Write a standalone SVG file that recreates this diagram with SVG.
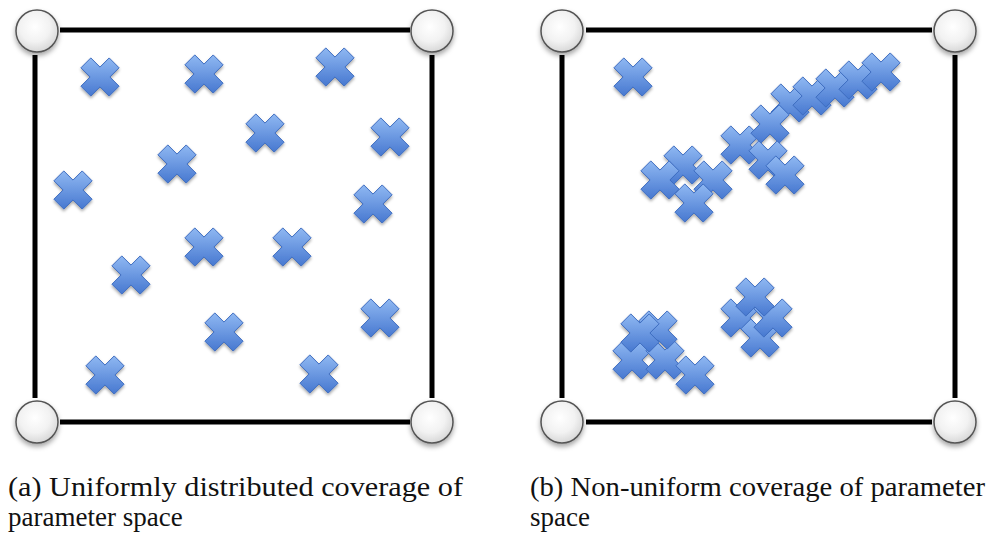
<svg xmlns="http://www.w3.org/2000/svg" xmlns:xlink="http://www.w3.org/1999/xlink" width="987" height="535" viewBox="0 0 987 535">
<style>
.frame{stroke:#000;stroke-width:5;fill:none}
.node{fill:url(#cg);stroke:#555;stroke-width:1.5;filter:url(#sh)}
.cap{font-family:"Liberation Serif","DejaVu Serif",serif;font-size:27px;fill:#111}
.x{filter:url(#sh2)}
</style>
<defs>
<radialGradient id="cg" cx="0.45" cy="0.4" r="0.6">
<stop offset="0" stop-color="#ffffff"/>
<stop offset="0.6" stop-color="#f2f2f2"/>
<stop offset="1" stop-color="#d8d8d8"/>
</radialGradient>
<linearGradient id="xg" x1="0" y1="0" x2="0" y2="1">
<stop offset="0" stop-color="#8fb8f2"/>
<stop offset="1" stop-color="#4778d0"/>
</linearGradient>
<filter id="sh" x="-50%" y="-50%" width="200%" height="200%">
<feDropShadow dx="0" dy="3" stdDeviation="2.5" flood-color="#000" flood-opacity="0.35"/>
</filter>
<filter id="sh2" x="-50%" y="-50%" width="200%" height="200%">
<feDropShadow dx="0" dy="2" stdDeviation="1.5" flood-color="#000" flood-opacity="0.35"/>
</filter>
<path id="x" d="M9.19,-19.09 L19.09,-9.19 L9.9,0 L19.09,9.19 L9.19,19.09 L0,9.9 L-9.19,19.09 L-19.09,9.19 L-9.9,0 L-19.09,-9.19 L-9.19,-19.09 L0,-9.9 Z" fill="url(#xg)" stroke="#3d6cc0" stroke-width="1" stroke-linejoin="round"/>
</defs>

<g id="connectors">
<line class="frame" x1="60" y1="30" x2="410" y2="30"/>
<line class="frame" x1="60" y1="422" x2="410" y2="422"/>
<line class="frame" x1="35" y1="55" x2="35" y2="398"/>
<line class="frame" x1="432" y1="55" x2="432" y2="398"/>
<line class="frame" x1="586" y1="30" x2="932" y2="30"/>
<line class="frame" x1="586" y1="422" x2="932" y2="422"/>
<line class="frame" x1="562" y1="55" x2="562" y2="398"/>
<line class="frame" x1="955" y1="55" x2="955" y2="398"/>
</g>

<g id="node-a-tl"><circle class="node" cx="37" cy="31" r="21"/></g>
<g id="node-a-tr"><circle class="node" cx="432" cy="31" r="21"/></g>
<g id="node-a-bl"><circle class="node" cx="37" cy="422" r="21"/></g>
<g id="node-a-br"><circle class="node" cx="432" cy="422" r="21"/></g>
<g id="node-b-tl"><circle class="node" cx="562" cy="31" r="21"/></g>
<g id="node-b-tr"><circle class="node" cx="955" cy="31" r="21"/></g>
<g id="node-b-bl"><circle class="node" cx="562" cy="422" r="21"/></g>
<g id="node-b-br"><circle class="node" cx="955" cy="422" r="21"/></g>

<g id="samples-a" class="x">
<use href="#x" x="100" y="77"/>
<use href="#x" x="204" y="74"/>
<use href="#x" x="335" y="67"/>
<use href="#x" x="265" y="133"/>
<use href="#x" x="390" y="137"/>
<use href="#x" x="177" y="164"/>
<use href="#x" x="73" y="190"/>
<use href="#x" x="373" y="204"/>
<use href="#x" x="204" y="247"/>
<use href="#x" x="292" y="247"/>
<use href="#x" x="131" y="275"/>
<use href="#x" x="380" y="318"/>
<use href="#x" x="224" y="332"/>
<use href="#x" x="105" y="375"/>
<use href="#x" x="319" y="374"/>
</g>

<g id="samples-b" class="x">
<use href="#x" x="633" y="77"/>
<use href="#x" x="790" y="103"/>
<use href="#x" x="812" y="96"/>
<use href="#x" x="835" y="88"/>
<use href="#x" x="858" y="80"/>
<use href="#x" x="881" y="72"/>
<use href="#x" x="740" y="145"/>
<use href="#x" x="770" y="124"/>
<use href="#x" x="768" y="160"/>
<use href="#x" x="785" y="175"/>
<use href="#x" x="683" y="165"/>
<use href="#x" x="660" y="180"/>
<use href="#x" x="713" y="180"/>
<use href="#x" x="694" y="203"/>
<use href="#x" x="632" y="360"/>
<use href="#x" x="665" y="360"/>
<use href="#x" x="658" y="330"/>
<use href="#x" x="640" y="333"/>
<use href="#x" x="695" y="375"/>
<use href="#x" x="740" y="318"/>
<use href="#x" x="760" y="338"/>
<use href="#x" x="773" y="318"/>
<use href="#x" x="755" y="297"/>
</g>

<g id="captions">
<text class="cap" x="8" y="496" textLength="455" lengthAdjust="spacingAndGlyphs">(a) Uniformly distributed coverage of</text>
<text class="cap" x="8" y="526">parameter space</text>
<text class="cap" x="530" y="496" textLength="455" lengthAdjust="spacingAndGlyphs">(b) Non-uniform coverage of parameter</text>
<text class="cap" x="530" y="526">space</text>
</g>
</svg>
